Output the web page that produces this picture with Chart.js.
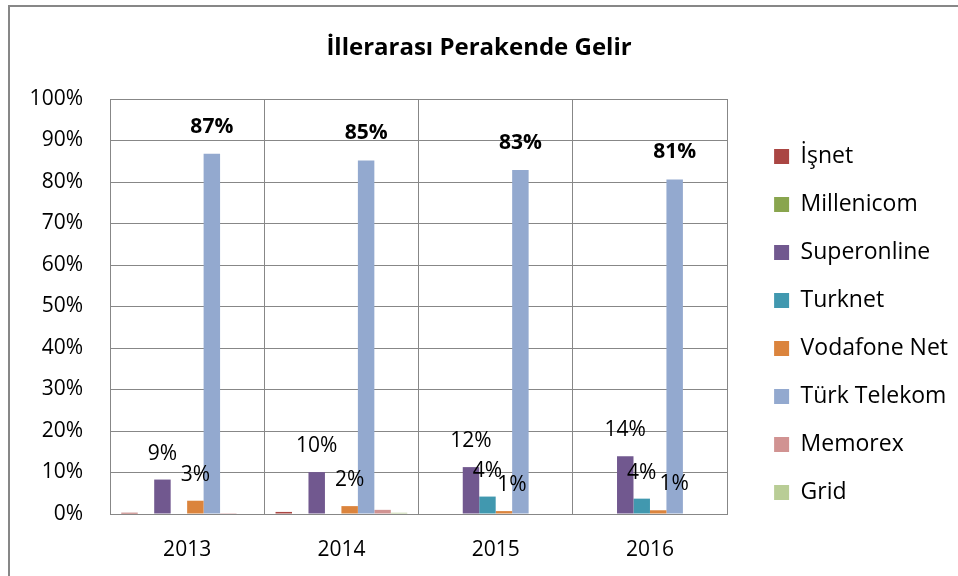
<!DOCTYPE html>
<html>
<head>
<meta charset="utf-8">
<script src="https://cdn.jsdelivr.net/npm/chart.js@4/dist/chart.umd.min.js"></script>
<style>
  html, body { margin: 0; padding: 0; background: #fff; }
  #wrap { width: 958px; height: 576px; }
</style>
</head>
<body>
<div id="wrap"><canvas id="gelirChart" width="958" height="576"></canvas></div>
<script>
// veriler (yüzde)
const yillar = ['2013', '2014', '2015', '2016'];
const isnet = [0.3, 0.5, 0, 0];
const millenicom = [0, 0, 0, 0];
const superonline = [8.3, 10.1, 11.3, 13.9];
const turknet = [0, 0, 4.2, 3.7];
const vodafoneNet = [3.2, 1.9, 0.7, 0.9];
const turkTelekom = [86.8, 85.2, 82.9, 80.6];
const memorex = [0.2, 1.0, 0, 0];
const gridSeri = [0, 0.3, 0, 0];

// grafikte yazan etiketler
const superonlineEtiket = ['9%', '10%', '12%', '14%'];
const turknetEtiket = ['', '', '4%', '4%'];
const vodafoneEtiket = ['3%', '2%', '1%', '1%'];
const turkTelekomEtiket = ['87%', '85%', '83%', '81%'];

const yTikler = [0, 10, 20, 30, 40, 50, 60, 70, 80, 90, 100];

const FONT = "'Open Sans', 'Noto Sans', sans-serif";
const GRI = '#878787';

Chart.defaults.font.family = FONT;
Chart.defaults.color = '#000';

// dış çerçeve
const cerceve = {
    id: 'cerceve',
    beforeDraw(chart) {
        const ctx = chart.ctx;
        ctx.save();
        ctx.fillStyle = '#fff';
        ctx.fillRect(0, 0, chart.width, chart.height);
        ctx.strokeStyle = GRI;
        ctx.lineWidth = 2;
        ctx.beginPath();
        ctx.moveTo(9, chart.height);
        ctx.lineTo(9, 6);
        ctx.lineTo(chart.width, 6);
        ctx.stroke();
        ctx.restore();
    }
};

// çubuk üstü etiketler
const degerEtiketleri = {
    id: 'degerEtiketleri',
    afterDatasetsDraw(chart, args, opts) {
        const ctx = chart.ctx;
        ctx.save();
        ctx.textAlign = 'center';
        ctx.textBaseline = 'middle';
        ctx.fillStyle = '#000';
        chart.data.datasets.forEach((ds, di) => {
            if (!ds.etiketler) return;
            const meta = chart.getDatasetMeta(di);
            meta.data.forEach((bar, i) => {
                const t = ds.etiketler[i];
                if (!t) return;
                const kalin = !!ds.kalinEtiket;
                ctx.font = (kalin ? 'bold ' : '') + '21px ' + FONT;
                const kay = (opts.kaydir[ds.label] || [])[i] || 0;
                ctx.fillText(t, bar.x + kay, bar.y - (kalin ? 27 : 26));
            });
        });
        ctx.restore();
    }
};

const ctx = document.getElementById('gelirChart').getContext('2d');
new Chart(ctx, {
    type: 'bar',
    data: {
        labels: yillar,
        datasets: [
            { label: 'İşnet', data: isnet, backgroundColor: '#AA4643' },
            { label: 'Millenicom', data: millenicom, backgroundColor: '#89A54E' },
            { label: 'Superonline', data: superonline, backgroundColor: '#71588F', etiketler: superonlineEtiket },
            { label: 'Turknet', data: turknet, backgroundColor: '#4198AF', etiketler: turknetEtiket },
            { label: 'Vodafone Net', data: vodafoneNet, backgroundColor: '#DB843D', etiketler: vodafoneEtiket },
            { label: 'Türk Telekom', data: turkTelekom, backgroundColor: '#93A9CF', etiketler: turkTelekomEtiket, kalinEtiket: true },
            { label: 'Memorex', data: memorex, backgroundColor: '#D19392' },
            { label: 'Grid', data: gridSeri, backgroundColor: '#B9CD96' }
        ]
    },
    options: {
        responsive: false,
        animation: false,
        devicePixelRatio: 1,
        datasets: {
            bar: { categoryPercentage: 0.854, barPercentage: 1.0, borderWidth: 0 }
        },
        layout: { padding: 0 },
        plugins: {
            title: {
                display: true,
                text: 'İllerarası Perakende Gelir',
                font: { size: 24, weight: 'bold' },
                color: '#000',
                padding: { top: 33.6, bottom: 36.6 }
            },
            legend: {
                position: 'right',
                fullSize: true,
                maxWidth: 211,
                title: { display: true, text: '', font: { size: 10 }, padding: { top: 61, bottom: 0 } },
                labels: {
                    boxWidth: 15,
                    boxHeight: 15,
                    padding: 25,
                    font: { size: 23 },
                    color: '#000'
                }
            },
            tooltip: { enabled: false },
            degerEtiketleri: { kaydir: { 'Vodafone Net': [0, 0, 8, 16] } }
        },
        scales: {
            x: {
                grid: { color: GRI, drawTicks: false, offset: true },
                border: { color: GRI },
                ticks: { padding: 23, font: { size: 21 } },
                afterFit: s => { s.height = 62; }
            },
            y: {
                min: 0,
                max: 100,
                afterBuildTicks: s => { s.ticks = yTikler.map(v => ({ value: v })); },
                grid: { color: GRI, drawTicks: false },
                border: { color: GRI },
                ticks: { padding: 27, font: { size: 21 }, callback: v => v + '%' },
                afterFit: s => { s.width = 110; }
            },
            bosluk: {
                type: 'linear',
                position: 'right',
                display: true,
                grid: { display: false },
                border: { display: false },
                ticks: { display: false },
                afterFit: s => { s.width = 22; }
            }
        }
    },
    plugins: [cerceve, degerEtiketleri]
});
</script>
</body>
</html>
